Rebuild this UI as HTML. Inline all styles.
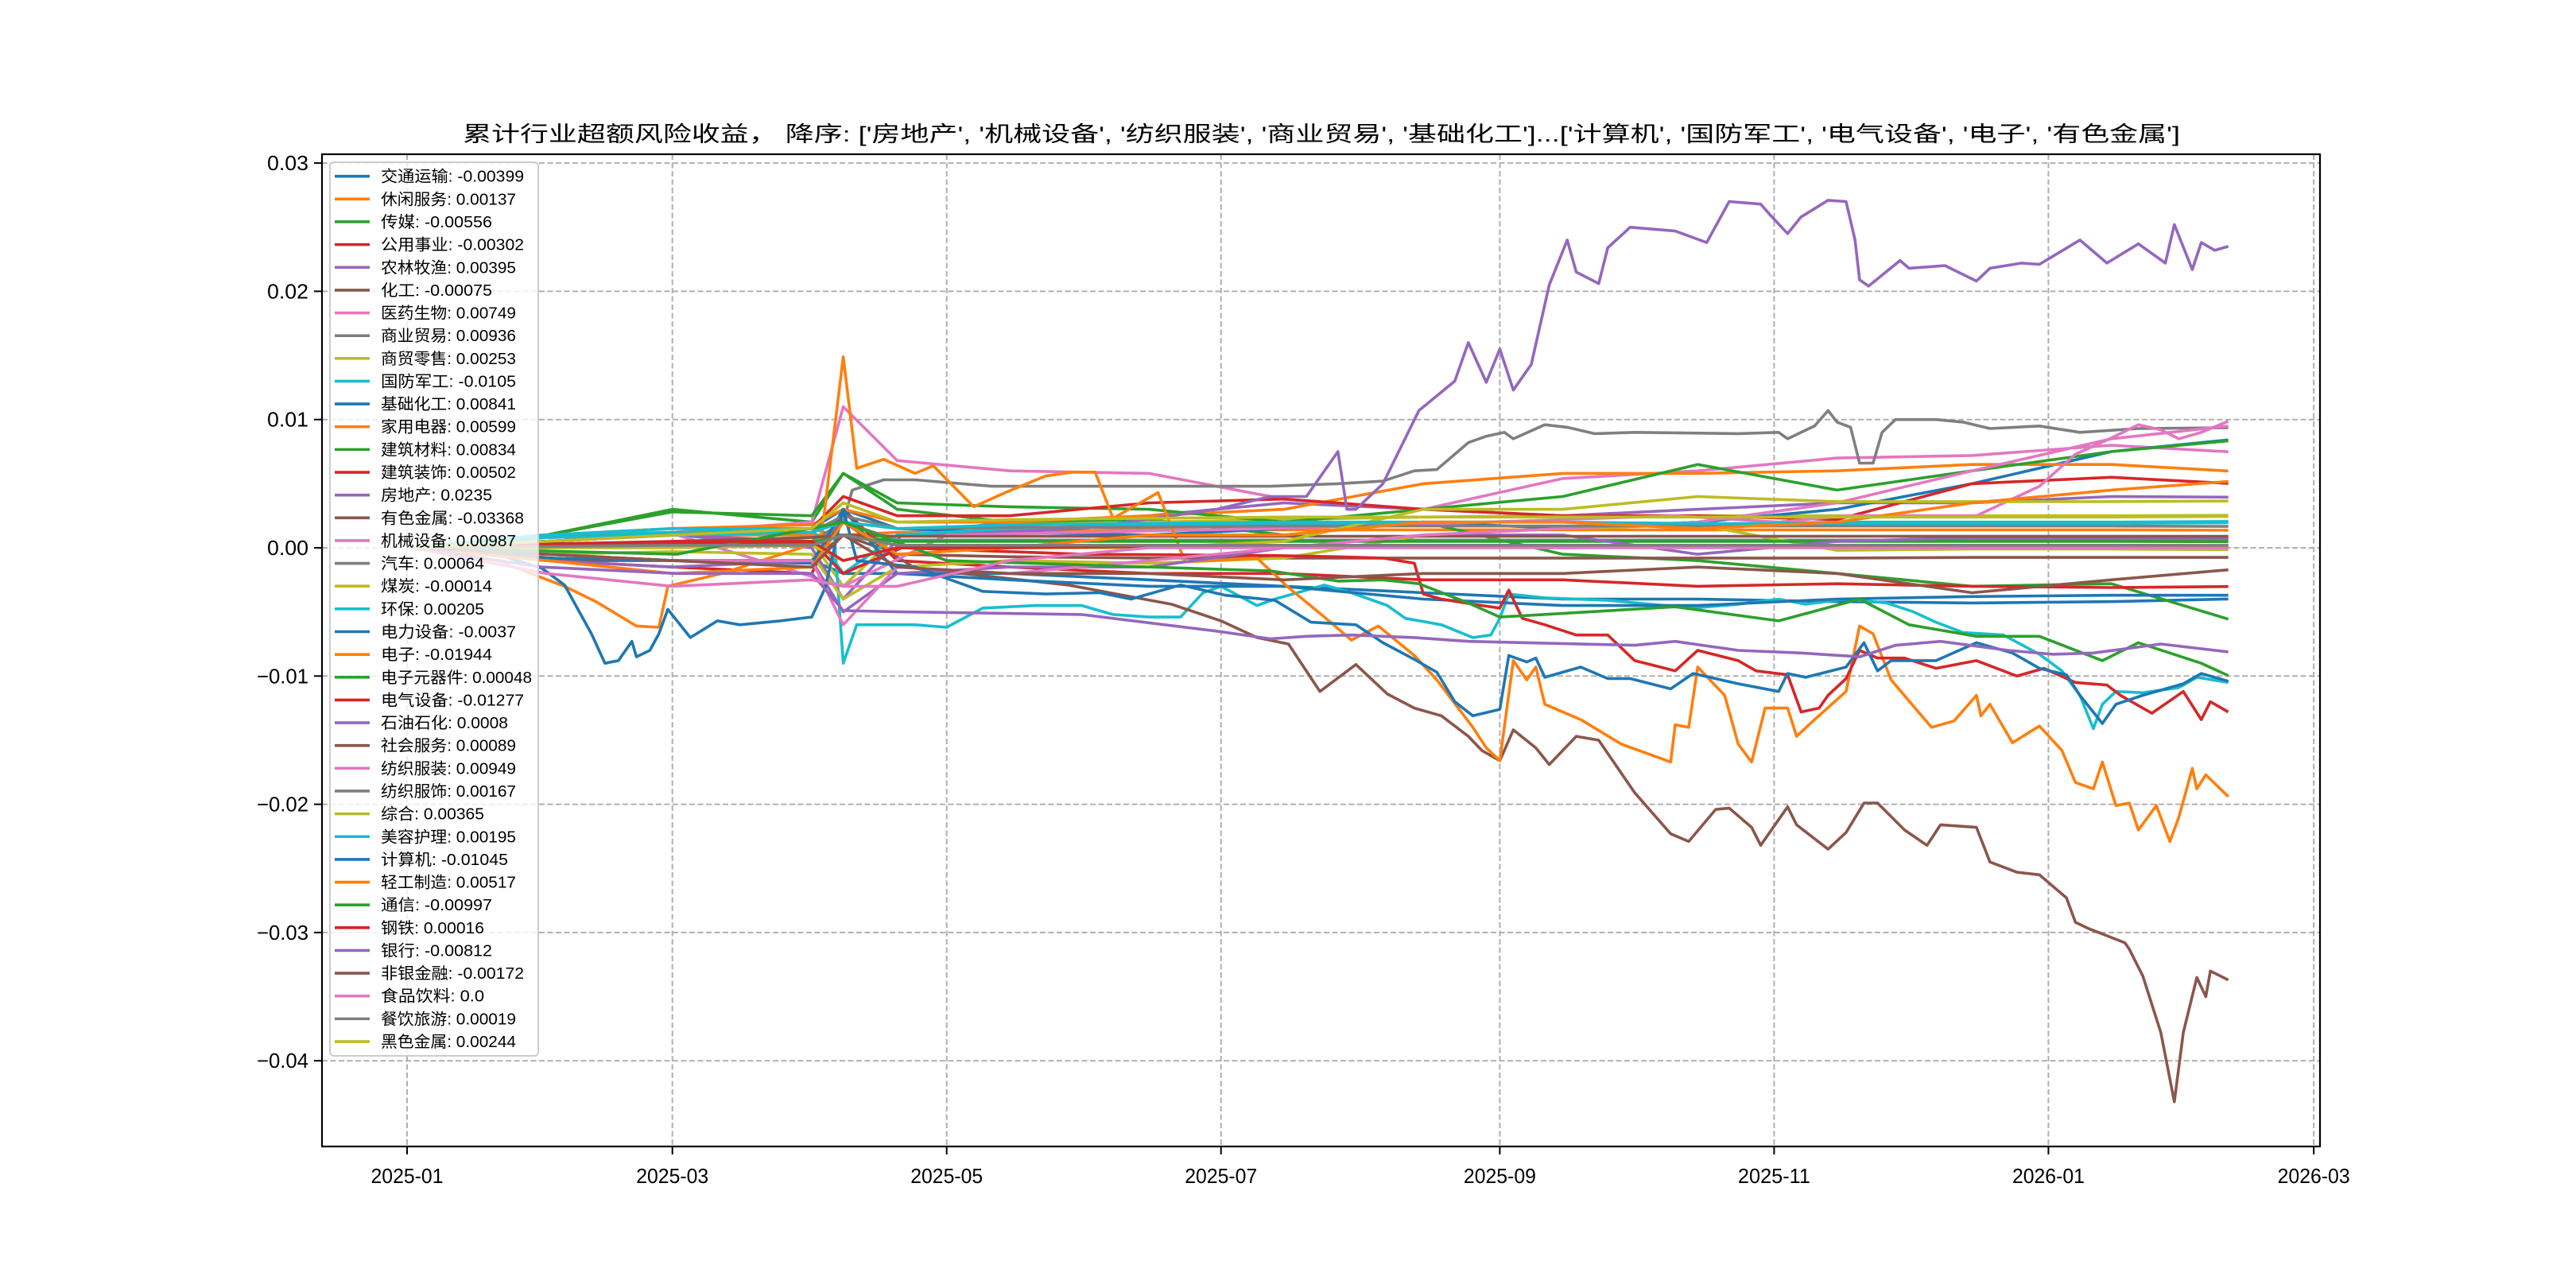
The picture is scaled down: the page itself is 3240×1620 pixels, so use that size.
<!DOCTYPE html>
<html><head><meta charset="utf-8">
<style>
html,body{margin:0;padding:0;background:#fff;}
svg{display:block;}
text{font-family:"WenQuanYi Zen Hei","Liberation Sans","Noto Sans CJK SC",sans-serif;}
</style></head>
<body>
<svg id="chart" width="3240" height="1620" viewBox="0 0 3240 1620" xmlns="http://www.w3.org/2000/svg">
<rect x="0" y="0" width="3240" height="1620" fill="#fff"/>
<defs><clipPath id="plotclip"><rect x="405" y="194" width="2513" height="1248"/></clipPath></defs>
<g id="grid"></g>
<g id="lines" clip-path="url(#plotclip)"></g>
<rect x="405" y="194" width="2513" height="1248" fill="none" stroke="#000" stroke-width="2.2"/>
<g id="ticks"></g>
<text x="1662" y="178" font-size="27" text-anchor="middle" textLength="2160" lengthAdjust="spacingAndGlyphs">累计行业超额风险收益， 降序: ['房地产', '机械设备', '纺织服装', '商业贸易', '基础化工']...['计算机', '国防军工', '电气设备', '电子', '有色金属']</text>
<g id="legend"></g>
</svg>
<script>
// ---- data (day offsets from 2025-01-01) ----
const baseDate = '2025-01-01';
const seriesNames = ['交通运输','休闲服务','传媒','公用事业','农林牧渔','化工','医药生物','商业贸易','商贸零售','国防军工','基础化工','家用电器','建筑材料','建筑装饰','房地产','有色金属','机械设备','汽车','煤炭','环保','电力设备','电子','电子元器件','电气设备','石油石化','社会服务','纺织服装','纺织服饰','综合','美容护理','计算机','轻工制造','通信','钢铁','银行','非银金融','食品饮料','餐饮旅游','黑色金属'];
const finalLabels = ['-0.00399','0.00137','-0.00556','-0.00302','0.00395','-0.00075','0.00749','0.00936','0.00253','-0.0105','0.00841','0.00599','0.00834','0.00502','0.0235','-0.03368','0.00987','0.00064','-0.00014','0.00205','-0.0037','-0.01944','0.00048','-0.01277','0.0008','0.00089','0.00949','0.00167','0.00365','0.00195','-0.01045','0.00517','-0.00997','0.00016','-0.00812','-0.00172','0.0','0.00019','0.00244'];
const gridDays = [1,31,59,90,97,109,134,165,195,226,257,287,318,348,379,405];
const v_jtys = [0,-0.0005,-0.001,-0.001,-0.002,-0.002,-0.002,-0.0025,-0.003,-0.0035,-0.004,-0.004,-0.0042,-0.0043,-0.0042,-0.00399];
const v_xxfw = [0,0.0005,0.001,0.001,0.001,0.0012,0.0013,0.0014,0.0014,0.0014,0.0014,0.0014,0.0014,0.0014,0.0014,0.00137];
const v_cm = [0,0.001,0.003,0.002,0.0058,0.003,0.002,0.0022,0.001,0.002,-0.0005,-0.001,-0.002,-0.003,-0.0028,-0.00556];
const v_gysy = [0,-0.001,-0.0015,-0.002,0.003,-0.001,-0.0015,-0.002,-0.002,-0.0025,-0.0025,-0.003,-0.0028,-0.003,-0.0031,-0.00302];
const v_nlmy = [0,0.0005,0.001,0.0005,-0.002,0.001,0.002,0.0025,0.0035,0.003,0.0025,0.003,0.0035,0.0035,0.004,0.00395];
const v_hg = [0,-0.0005,-0.001,-0.001,0.001,-0.0005,-0.0007,-0.0008,-0.0008,-0.0008,-0.0008,-0.0008,-0.0008,-0.00075,-0.00075,-0.00075];
const v_yysw = [0,0.001,0.0012,0.002,0.011,0.0068,0.006,0.0058,0.0038,0.003,0.0054,0.006,0.007,0.0072,0.008,0.00749];
const v_mlls = [0,0,0.0003,0.0005,-0.003,0.001,0.0018,0.002,0.0022,0.0024,0.0025,0.0025,0.0025,0.0025,0.0025,0.00253];
const v_jchg = [0,0.0005,0.001,0.0015,0.003,0.0015,0.0012,0.001,0.0015,0.002,0.0015,0.002,0.003,0.005,0.0075,0.00841];
const v_jydq = [0,0.001,0.0015,0.0018,0.003,0.002,0.002,0.0025,0.003,0.005,0.0058,0.0058,0.006,0.0065,0.0065,0.00599];
const v_jzcl = [0,0.001,0.0028,0.0025,0.0058,0.0035,0.0032,0.003,0.002,0.003,0.004,0.0065,0.0045,0.006,0.0075,0.00834];
const v_jzzs = [0,0.0008,0.001,0.0015,0.004,0.0025,0.0025,0.0035,0.0038,0.003,0.0025,0.0025,0.0022,0.005,0.0055,0.00502];
const v_qc = [0,0.0002,0.0004,0.0005,0.002,0.0006,0.0006,0.0006,0.0006,0.0006,0.0006,0.0006,0.0006,0.0006,0.0006,0.00064];
const v_mt = [0,-0.0005,-0.0003,-0.0005,-0.004,-0.0015,-0.001,-0.0012,-0.0008,0.001,0.0015,0.0018,-0.0002,-0.0001,-0.0001,-0.00014];
const v_hb = [0,0.001,0.0015,0.0015,-0.002,0.001,0.0015,0.0018,0.0018,0.002,0.002,0.0018,0.002,0.002,0.002,0.00205];
const v_dlsb = [0,-0.0008,-0.001,-0.0012,0.003,-0.002,-0.0025,-0.003,-0.003,-0.004,-0.0045,-0.0045,-0.004,-0.0038,-0.0037,-0.0037];
const v_dzyqj = [0,0,0.0003,0.0004,0.001,0.0005,0.0005,0.0005,0.0005,0.0005,0.0005,0.0005,0.0005,0.0005,0.0005,0.00048];
const v_syzh = [0,-0.001,-0.0015,-0.001,-0.005,-0.002,-0.0015,-0.0015,0,0.001,0.001,-0.0005,0.0005,0.0008,0.0008,0.0008];
const v_shfw = [0,0,0.0005,0.0008,0.001,0.0009,0.0009,0.0009,0.0009,0.0009,0.0009,0.0009,0.0009,0.0009,0.0009,0.00089];
const v_fzfz = [0,-0.0005,-0.001,-0.001,-0.006,-0.0015,-0.002,-0.001,0,0.001,0.0015,0.002,0.0035,0.006,0.0085,0.00949];
const v_fzfs = [0,0.0005,0.001,0.0012,0.0025,0.0015,0.0016,0.0016,0.0017,0.0017,0.0017,0.0017,0.0017,0.0017,0.0017,0.00167];
const v_zh = [0,0,0,0.0002,-0.001,0,0,0,0.0005,0.003,0.003,0.004,0.0036,0.0036,0.0036,0.00365];
const v_mrhl = [0,0.0008,0.001,0.0012,0.002,0.0015,0.0018,0.0019,0.002,0.002,0.002,0.0019,0.0019,0.0019,0.0019,0.00195];
const v_qgzz = [0,-0.001,-0.002,-0.0015,0.002,-0.0005,0,0.001,0.001,0.002,0.002,0.0015,0.002,0.0035,0.0045,0.00517];
const v_gt = [0,0.0003,0.0005,0.0005,-0.001,0,0,0.0001,0.0002,0.0001,0,0.0001,0.0002,0.0002,0.0002,0.00016];
const v_fyjr = [0,-0.0005,-0.001,-0.0015,0.001,-0.0015,-0.002,-0.002,-0.0025,-0.002,-0.002,-0.0015,-0.002,-0.0035,-0.0025,-0.00172];
const v_spyl = [0,-0.002,-0.003,-0.0025,-0.003,-0.003,-0.001,0,0,0,0,0,0,0,0,0];
const v_cyly = [0,0.0001,0.0002,0.0002,0.001,0.0002,0.0002,0.0002,0.0002,0.0002,0.0002,0.0002,0.0002,0.0002,0.0002,0.00019];
const v_hsjs = [0,0.0005,0.001,0.0015,0.0035,0.002,0.0022,0.0023,0.0024,0.0024,0.0024,0.0024,0.0024,0.0024,0.0024,0.00244];

const d_fdc = [1,60,90,97,110,150,180,192,200,207,209,211,217,225,233,236,240,243,246,250,254,258,260,265,267,272,282,289,294,301,303,307,310,316,320,322,323,325,332,334,342,349,352,359,363,372,378,385,391,393,397,399,402,405];
const v_fdc = [0,0.001,0,-0.004,0.001,0.0015,0.003,0.004,0.004,0.0075,0.003,0.003,0.005,0.0107,0.013,0.016,0.0129,0.0155,0.0123,0.0143,0.0205,0.024,0.0215,0.0206,0.0234,0.025,0.0247,0.0238,0.027,0.0268,0.026,0.0245,0.0258,0.0271,0.027,0.024,0.0209,0.0204,0.0224,0.0218,0.022,0.0208,0.0218,0.0222,0.0221,0.024,0.0222,0.0237,0.0222,0.0252,0.0217,0.0238,0.0232,0.0235];
const d_ysjs = [1,40,90,97,113,147,170,181,189,196,203,211,218,224,230,236,239,243,246,251,254,260,265,273,281,285,291,294,299,301,307,309,316,320,324,327,333,338,341,349,352,358,363,369,371,374,382,383,386,390,393,395,398,400,401,405];
const v_ysjs = [0,-0.001,-0.001,0.002,-0.0016,-0.0029,-0.0044,-0.0057,-0.007,-0.0075,-0.0112,-0.0091,-0.0114,-0.0125,-0.0131,-0.0147,-0.0158,-0.0166,-0.0142,-0.0156,-0.0169,-0.0147,-0.015,-0.0191,-0.0223,-0.0229,-0.0204,-0.0203,-0.0218,-0.0232,-0.0202,-0.0216,-0.0235,-0.0222,-0.0199,-0.0199,-0.022,-0.0232,-0.0216,-0.0218,-0.0245,-0.0253,-0.0255,-0.0273,-0.0292,-0.0297,-0.0308,-0.0313,-0.0334,-0.0378,-0.0432,-0.0378,-0.0335,-0.035,-0.033,-0.0337];
const d_dz = [1,20,35,42,51,56,58,70,92,97,100,106,113,117,126,133,142,148,153,157,167,173,189,196,204,210,216,224,229,237,240,243,246,249,251,253,261,270,281,282,285,287,293,296,299,302,307,309,313,320,323,326,330,339,344,349,350,352,357,363,368,371,375,377,380,383,385,389,392,394,397,398,400,405];
const v_dz = [0,-0.001,-0.003,-0.0042,-0.0061,-0.0062,-0.003,-0.002,0.0005,0.0149,0.0062,0.0069,0.0058,0.0064,0.0032,0.0043,0.0056,0.0059,0.0059,0.0023,0.0043,-0.0011,-0.0008,-0.0031,-0.0054,-0.0072,-0.0061,-0.0084,-0.0103,-0.014,-0.0156,-0.0166,-0.0088,-0.0103,-0.0093,-0.0122,-0.0134,-0.0153,-0.0167,-0.0138,-0.014,-0.0093,-0.0115,-0.0153,-0.0167,-0.0125,-0.0125,-0.0147,-0.0134,-0.0112,-0.0061,-0.0067,-0.0103,-0.014,-0.0135,-0.0115,-0.0131,-0.0122,-0.0152,-0.0139,-0.0158,-0.0183,-0.0188,-0.0167,-0.0201,-0.0199,-0.022,-0.0201,-0.0229,-0.021,-0.0172,-0.0188,-0.0177,-0.0194];
const d_syy = [1,60,92,97,99,106,113,130,174,192,207,217,224,229,236,240,244,246,253,258,264,273,296,305,307,313,316,318,321,323,326,328,331,340,346,352,363,372,385,405];
const v_syy = [0,0.0003,0.0005,0.002,0.0045,0.0053,0.0053,0.0048,0.0048,0.0048,0.005,0.0052,0.006,0.0061,0.0082,0.0087,0.009,0.0085,0.0096,0.0094,0.0089,0.009,0.0089,0.009,0.0085,0.0095,0.0107,0.0098,0.0094,0.0066,0.0066,0.009,0.01,0.01,0.0098,0.0093,0.0095,0.009,0.0093,0.00936];
const d_gfjg = [1,30,60,90,95,97,100,113,120,128,140,150,157,165,172,177,181,189,193,204,210,218,222,230,237,241,243,245,253,267,286,296,305,311,320,329,335,340,346,355,363,368,372,375,377,380,386,394,398,405];
const v_gfjg = [0,0.001,0.0012,0.0015,0.001,-0.009,-0.006,-0.006,-0.0062,-0.0047,-0.0045,-0.0045,-0.0052,-0.0054,-0.0054,-0.0035,-0.003,-0.0045,-0.004,-0.0029,-0.0035,-0.0045,-0.0055,-0.006,-0.007,-0.0068,-0.0055,-0.0036,-0.0039,-0.0041,-0.0047,-0.0044,-0.004,-0.0044,-0.004,-0.0043,-0.005,-0.0058,-0.0066,-0.0068,-0.0083,-0.0096,-0.0115,-0.0141,-0.0122,-0.0112,-0.0113,-0.0109,-0.0101,-0.0105];
const d_jsj = [1,20,30,35,41,44,47,50,51,54,56,58,63,69,74,83,90,93,97,100,113,128,142,154,161,172,182,193,201,211,217,224,229,233,237,243,245,249,251,253,261,267,272,281,286,296,305,307,311,320,324,327,330,340,349,357,363,369,372,377,380,386,395,399,405];
const v_jsj = [0,-0.0005,-0.0016,-0.0029,-0.0067,-0.009,-0.0088,-0.0073,-0.0085,-0.008,-0.0067,-0.0048,-0.007,-0.0057,-0.006,-0.0057,-0.0054,-0.0031,0.003,-0.001,-0.0015,-0.0034,-0.0036,-0.0035,-0.004,-0.0029,-0.0037,-0.0041,-0.0058,-0.006,-0.0074,-0.0087,-0.0097,-0.012,-0.0131,-0.0126,-0.0084,-0.0089,-0.0086,-0.0101,-0.0093,-0.0102,-0.0102,-0.011,-0.0098,-0.0106,-0.0112,-0.0098,-0.0101,-0.0093,-0.0074,-0.0096,-0.0088,-0.0088,-0.0074,-0.0082,-0.0094,-0.0099,-0.0115,-0.0137,-0.0122,-0.0115,-0.0106,-0.0098,-0.0104];
const d_dqsb = [1,90,97,110,150,192,207,217,224,226,230,237,243,245,248,253,260,267,273,282,287,296,300,307,310,314,316,320,323,327,333,340,349,358,364,371,378,381,388,395,399,401,405];
const v_dqsb = [0,0.0005,-0.002,0,-0.0005,-0.0006,-0.0007,-0.0008,-0.0012,-0.0036,-0.004,-0.0044,-0.0047,-0.0033,-0.0055,-0.006,-0.0068,-0.0068,-0.0088,-0.0096,-0.008,-0.0088,-0.0096,-0.0099,-0.0128,-0.0125,-0.0115,-0.0102,-0.008,-0.0086,-0.0086,-0.0094,-0.0088,-0.01,-0.0094,-0.0105,-0.0107,-0.0115,-0.0129,-0.0112,-0.0134,-0.012,-0.0128];
const d_tx = [1,60,97,120,192,207,217,225,236,243,282,305,323,334,349,363,377,385,392,399,405];
const v_tx = [0,-0.0005,0.002,-0.001,-0.0018,-0.0026,-0.0025,-0.0028,-0.0043,-0.0054,-0.0046,-0.0057,-0.004,-0.006,-0.0069,-0.0069,-0.0088,-0.0074,-0.0082,-0.009,-0.00997];
const d_yh = [1,30,60,90,97,110,150,180,192,200,210,224,236,273,282,296,310,323,331,341,356,366,375,390,405];
const v_yh = [0,-0.0015,-0.002,-0.002,-0.0049,-0.005,-0.0052,-0.0065,-0.0071,-0.0069,-0.0068,-0.007,-0.0073,-0.0076,-0.0073,-0.008,-0.0082,-0.0085,-0.0076,-0.0073,-0.008,-0.0083,-0.0082,-0.0075,-0.00812];
const d_jxsb = [1,60,97,120,192,240,282,305,320,334,349,363,371,378,385,390,394,399,405];
const v_jxsb = [0,0.001,-0.003,0.001,0.0015,0.002,0.0025,0.002,0.0025,0.0025,0.0025,0.0048,0.0073,0.0084,0.0096,0.0092,0.0085,0.009,0.00987];

const yTickValues = [0.03,0.02,0.01,0.0,-0.01,-0.02,-0.03,-0.04];
const yTickLabels = ['0.03','0.02','0.01','0.00','\u22120.01','\u22120.02','\u22120.03','\u22120.04'];
const xTickDays = [0,59,120,181,243,304,365,424];
const xTickLabels = ['2025-01','2025-03','2025-05','2025-07','2025-09','2025-11','2026-01','2026-03'];

const palette = ['#1f77b4','#ff7f0e','#2ca02c','#d62728','#9467bd','#8c564b','#e377c2','#7f7f7f','#bcbd22','#17becf'];
const seriesDays = [gridDays,gridDays,gridDays,gridDays,gridDays,gridDays,gridDays,d_syy,gridDays,d_gfjg,gridDays,gridDays,gridDays,gridDays,d_fdc,d_ysjs,d_jxsb,gridDays,gridDays,gridDays,gridDays,d_dz,gridDays,d_dqsb,gridDays,gridDays,gridDays,gridDays,gridDays,gridDays,d_jsj,gridDays,d_tx,gridDays,d_yh,gridDays,gridDays,gridDays,gridDays];
const seriesVals = [v_jtys,v_xxfw,v_cm,v_gysy,v_nlmy,v_hg,v_yysw,v_syy,v_mlls,v_gfjg,v_jchg,v_jydq,v_jzcl,v_jzzs,v_fdc,v_ysjs,v_jxsb,v_qc,v_mt,v_hb,v_dlsb,v_dz,v_dzyqj,v_dqsb,v_syzh,v_shfw,v_fzfz,v_fzfs,v_zh,v_mrhl,v_jsj,v_qgzz,v_tx,v_gt,v_yh,v_fyjr,v_spyl,v_cyly,v_hsjs];

// ---- axes ----
const X0 = 512, PXD = 5.656, Y0 = 689, PYV = 16130;
function xs(d){ return X0 + d*PXD; }
function ys(v){ return Y0 - v*PYV; }
const NS='http://www.w3.org/2000/svg';
function mk(tag, attrs, parent){ const e=document.createElementNS(NS,tag); for(const k in attrs) e.setAttribute(k,attrs[k]); parent.appendChild(e); return e; }

const grid=document.getElementById('grid'), ticks=document.getElementById('ticks');
yTickValues.forEach((v,i)=>{
  const y=ys(v);
  const gl=mk('line',{x1:405,x2:2918,y1:y,y2:y,stroke:'#b0b0b0','stroke-width':2,'stroke-dasharray':'7,3.5'},grid);
  
  
  const tk=mk('line',{x1:395,x2:405,y1:y,y2:y,stroke:'#000','stroke-width':2},ticks);
  
  
  const lb=mk('text',{x:388,y:y+9,'font-size':26,'text-anchor':'end',textLength:yTickLabels[i].length*13,lengthAdjust:'spacingAndGlyphs'},ticks);
  lb.textContent=yTickLabels[i];
  
  
});
xTickDays.forEach((d,i)=>{
  const x=xs(d);
  const gl=mk('line',{x1:x,x2:x,y1:194,y2:1442,stroke:'#b0b0b0','stroke-width':2,'stroke-dasharray':'7,3.5'},grid);
  
  
  const tk=mk('line',{x1:x,x2:x,y1:1442,y2:1452,stroke:'#000','stroke-width':2},ticks);
  
  
  const lb=mk('text',{x:x,y:1488,'font-size':26,'text-anchor':'middle',textLength:91,lengthAdjust:'spacingAndGlyphs'},ticks);
  lb.textContent=xTickLabels[i];
  
  
});

// ---- series ----
const lines=document.getElementById('lines');
seriesNames.forEach((nm,i)=>{
  const dd=seriesDays[i], vv=seriesVals[i];
  const n=Math.min(dd.length,vv.length);
  let pts=[];
  for(let k=0;k<n;k++) pts.push(xs(dd[k]).toFixed(1)+','+ys(vv[k]).toFixed(1));
  const pl=mk('polyline',{points:pts.join(' '),fill:'none',stroke:palette[i%10],'stroke-width':3.6,'stroke-linejoin':'round'},lines);
  
  
});

// ---- legend ----
const lg=document.getElementById('legend');
const lgBox=mk('rect',{x:415,y:204,width:262,height:1124,rx:5,fill:'#fff','fill-opacity':0.8,stroke:'#cccccc','stroke-width':2},lg);


seriesNames.forEach((nm,i)=>{
  const y=221.7+i*28.64;
  const ln=mk('line',{x1:421,x2:465,y1:y,y2:y,stroke:palette[i%10],'stroke-width':3.6},lg);
  
  
  const label=nm+': '+finalLabels[i];
  let w=0; for(const c of label) w += (c.charCodeAt(0)>255?20:10);
  const t=mk('text',{x:479,y:y+7,'font-size':20,textLength:w,lengthAdjust:'spacingAndGlyphs'},lg);
  t.textContent=label;
  
  
});
</script>
</body></html>
